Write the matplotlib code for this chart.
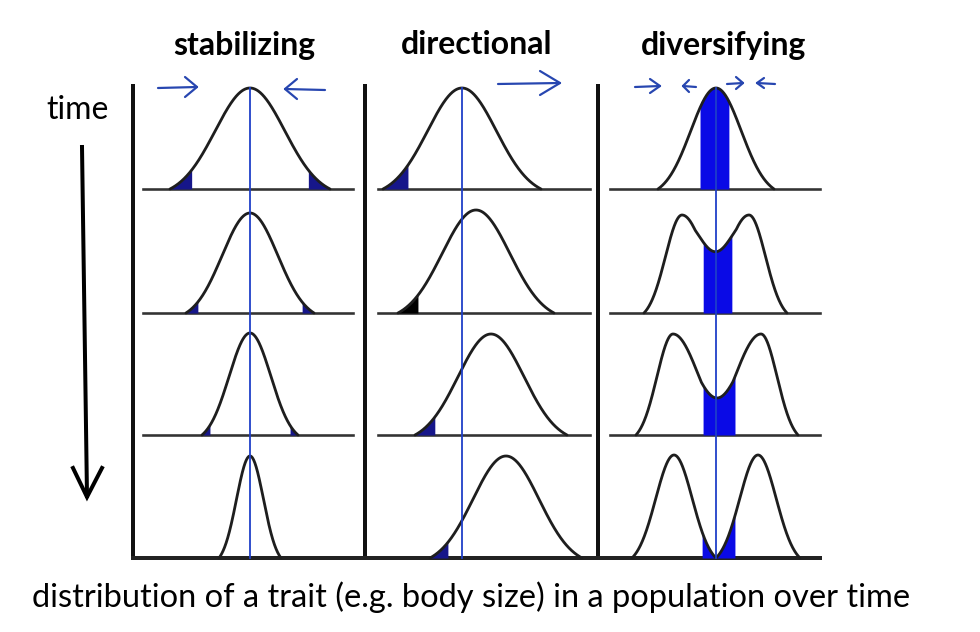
import numpy as np
import matplotlib.pyplot as plt

# text
titles = ['stabilizing', 'directional', 'diversifying']
title_x = [244, 477, 724]
time_label = 'time'
x_label = 'distribution of a trait (e.g. body size) in a population over time'

# layout, in pixels of the 980x632 picture
col_line_x = [133, 365, 598]          # black vertical lines
base_x0 = [143, 378, 610]             # where each panel's baseline starts
base_x1 = [353, 590, 820]             # and ends
row_base = [189, 313, 435, 558]       # one baseline per generation (top = first)
line_top = 84
mean_x = [250, 462, 716]              # starting mean (blue line)

# stabilizing selection: mean, half width, peak height, removed tails
stab_mu = [250, 250, 250, 250]
stab_w = [80, 64, 48, 31]
stab_h = [101, 100, 102, 102]
stab_tail = [22, 12, 8, 0]

# directional selection
dir_mu = [462, 476, 491, 506]
dir_w = [79, 78, 76, 76]
dir_h = [101, 103, 101, 102]
dir_tail = [25, 20, 20, 18]
dir_tail_col = ['#16168a', 'black', '#16168a', '#16168a']

# diversifying selection: two modes with outer / inner half widths
div_left = [716, 682, 673, 674]
div_right = [716, 749, 761, 758]
div_w_out = [58, 38, 37, 42]
div_w_in = [58, 54, 60, 42]
div_h = [101, 98, 101, 103]
div_band = [(700, 729), (703, 732), (703, 735), (702, 735)]

# hand drawn blue arrows: x start, x tip, y, head length, head half height
pen_arrows = [(158, 197, 88, 12, 10), (325, 285, 90, 12, 10),
              (498, 560, 84, 20, 12),
              (635, 660, 87, 10, 7), (696, 683, 87, 6, 6),
              (727, 743, 84, 7, 6), (775, 757, 84, 7, 5)]

CUT = 2.3
CURVE = '#1e1e1e'
PEN = '#2746b0'
BLUE_LINE = '#1f3fc8'


def bump(x, mu, w_left, w_right):
    w = np.where(x < mu, w_left, w_right)
    d = (x - mu) / w * CUT
    e = np.exp(-CUT ** 2 / 2)
    g = (np.exp(-d ** 2 / 2) - e) / (1 - e)
    return np.where(np.abs(d) <= CUT, g, 0.0)


fig = plt.figure(figsize=(9.8, 6.32), dpi=100)
ax = fig.add_axes([0, 0, 1, 1])
ax.set_xlim(0, 980)
ax.set_ylim(632, 0)
ax.axis('off')

px = 0.72  # pixel -> point

# frame: verticals, baselines
for x in col_line_x:
    ax.plot([x, x], [line_top, row_base[-1]], color='#111111', lw=4 * px, solid_capstyle='butt')
for r, y in enumerate(row_base[:-1]):
    for p in range(3):
        ax.plot([base_x0[p], base_x1[p]], [y, y], color='#333333', lw=2.6 * px)
ax.plot([col_line_x[0], base_x1[-1]], [row_base[-1], row_base[-1]], color='#222222', lw=4 * px)


def draw_curve(x, y, base):
    ax.plot(x, base - y, color=CURVE, lw=2.8 * px, solid_capstyle='round', zorder=3)


def fill_under(x, y, base, lo, hi, color):
    m = (x >= lo) & (x <= hi)
    ax.fill_between(x[m], base, base - y[m], color=color, lw=0, zorder=2)


for r, base in enumerate(row_base):
    # stabilizing
    x = np.linspace(stab_mu[r] - stab_w[r], stab_mu[r] + stab_w[r], 400)
    y = stab_h[r] * bump(x, stab_mu[r], stab_w[r], stab_w[r])
    if stab_tail[r] > 0:
        fill_under(x, y, base, x[0], x[0] + stab_tail[r], '#16168a')
        fill_under(x, y, base, x[-1] - stab_tail[r], x[-1], '#16168a')
    draw_curve(x, y, base)

    # directional
    x = np.linspace(dir_mu[r] - dir_w[r], dir_mu[r] + dir_w[r], 400)
    y = dir_h[r] * bump(x, dir_mu[r], dir_w[r], dir_w[r])
    fill_under(x, y, base, x[0], x[0] + dir_tail[r], dir_tail_col[r])
    draw_curve(x, y, base)

    # diversifying
    x = np.linspace(div_left[r] - div_w_out[r], div_right[r] + div_w_out[r], 600)
    y = bump(x, div_left[r], div_w_out[r], div_w_in[r]) + bump(x, div_right[r], div_w_in[r], div_w_out[r])
    y = div_h[r] * y / y.max()
    fill_under(x, y, base, div_band[r][0], div_band[r][1], '#0a0ae6')
    draw_curve(x, y, base)

# blue mean lines
for x in mean_x:
    ax.plot([x, x], [88, row_base[-1]], color=BLUE_LINE, lw=1.8 * px, zorder=4)

# pen arrows
for x0, x1, y, hl, hh in pen_arrows:
    s = np.sign(x1 - x0)
    ax.plot([x0, x1], [y, y - 1], color=PEN, lw=2.2 * px, solid_capstyle='round')
    ax.plot([x1 - s * hl, x1, x1 - s * hl], [y - 1 - hh, y - 1, y - 1 + hh],
            color=PEN, lw=2.2 * px, solid_capstyle='round', solid_joinstyle='round')

# time arrow
ax.plot([82, 87], [147, 496], color='black', lw=4 * px)
ax.plot([73, 87, 102], [468, 497, 468], color='black', lw=4 * px, solid_joinstyle='miter')

# text
for t, x in zip(titles, title_x):
    ax.text(x, 45, t, ha='center', va='center', fontsize=23, fontweight='bold', family='Lato')
ax.text(78, 110, time_label, ha='center', va='center', fontsize=23, family='Lato')
ax.text(471, 597, x_label, ha='center', va='center', fontsize=23.5, family='Lato')

fig.savefig('out.png', dpi=100)
